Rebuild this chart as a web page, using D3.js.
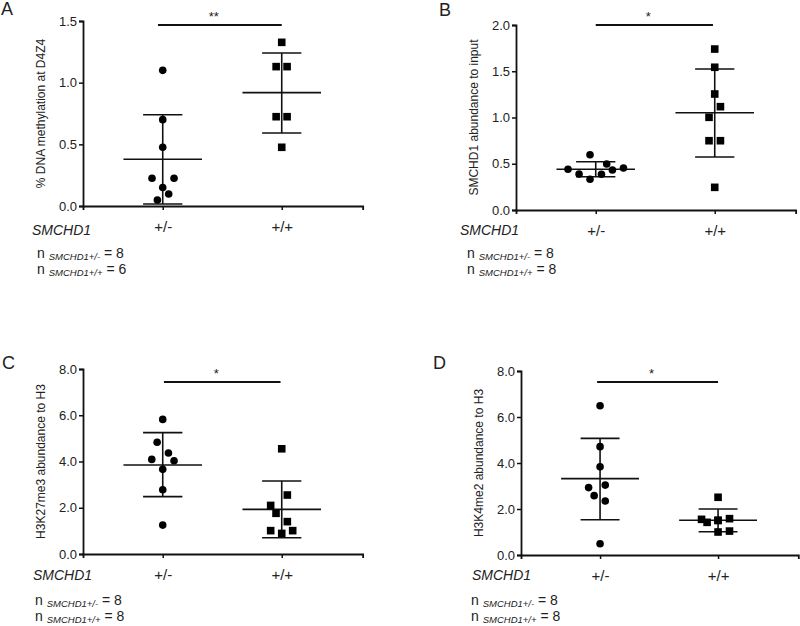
<!DOCTYPE html>
<html><head><meta charset="utf-8">
<script src="https://cdn.jsdelivr.net/npm/d3@7/dist/d3.min.js"></script>
<style>body{margin:0;background:#fff}svg{display:block}text{font-family:"Liberation Sans",Arial,sans-serif;fill:#222}</style>
</head><body><svg id="c" width="800" height="626"></svg>
<script>
// ---- data ----
const categories = ["+/-", "+/+"];
const panelLetters = ["A", "B", "C", "D"];
const yTitles = ["% DNA methylation at D4Z4", "SMCHD1 abundance to input", "H3K27me3 abundance to H3", "H3K4me2 abundance to H3"];
const yDomains = [[0, 1.5], [0, 2.0], [0, 8.0], [0, 8.0]];
const yTicks = [[0, 0.5, 1.0, 1.5], [0, 0.5, 1.0, 1.5, 2.0], [0, 2, 4, 6, 8], [0, 2, 4, 6, 8]];
const stars = ["**", "*", "*", "*"];
const nCounts = [[8, 6], [8, 8], [8, 8], [8, 8]];

// values (het = +/- circles, wt = +/+ squares) and horizontal jitter (category units)
const aHet = [1.10, 0.70, 0.476, 0.225, 0.225, 0.15, 0.097, 0.049];
const aHetJit = [0, 0, 0, -0.09, 0.095, 0, 0.05, -0.045];
const aWt = [1.327, 1.13, 1.13, 0.724, 0.724, 0.476];
const aWtJit = [0, -0.047, 0.045, -0.047, 0.045, 0];

const bHet = [0.598, 0.497, 0.44, 0.454, 0.432, 0.389, 0.386, 0.332];
const bHetJit = [-0.048, 0.092, -0.233, 0.233, 0.14, -0.14, 0.048, -0.048];
const bWt = [1.74, 1.543, 1.254, 1.117, 1.002, 0.749, 0.749, 0.245];
const bWtJit = [0, 0, 0, 0.048, -0.048, -0.048, 0.048, 0];

const cHet = [5.82, 4.83, 4.37, 4.09, 4.03, 3.66, 2.78, 1.25];
const cHetJit = [0, -0.047, 0.048, -0.092, 0.095, 0, 0, 0];
const cWt = [4.55, 2.55, 2.10, 1.76, 1.40, 1.01, 0.89, 1.01];
const cWtJit = [0, 0.047, -0.093, -0.048, 0.047, -0.093, 0, 0.092];

const dHet = [6.49, 4.71, 3.84, 2.93, 3.04, 2.58, 2.35, 0.49];
const dHetJit = [0, 0, 0, -0.097, 0.044, -0.05, 0.044, 0];
const dWt = [2.51, 1.55, 1.42, 1.51, 1.58, 1.00, 1.04, 1.50];
const dWtJit = [0, -0.14, -0.093, 0, 0.097, 0, 0.097, 0];

// mean and SD [het, wt]
const means = [[0.379, 0.919], [0.44, 1.052], [3.85, 1.93], [3.32, 1.51]];
const sdLow = [[0.016, 0.592], [0.36, 0.573], [2.48, 0.70], [1.53, 1.01]];
const sdHigh = [[0.74, 1.24], [0.522, 1.524], [5.25, 3.16], [5.07, 2.0]];

const seriesData = [[aHet, aWt], [bHet, bWt], [cHet, cWt], [dHet, dWt]];
const seriesJit = [[aHetJit, aWtJit], [bHetJit, bWtJit], [cHetJit, cWtJit], [dHetJit, dWtJit]];

// ---- layout ----
const layout = [
  {ax: 83, top: 21, bot: 206, sp: 119, letter: [1, 15], gene: [32, 235], n: [37, 258], sigY: 25, bar: [-0.04, 1.0]},
  {ax: 516, top: 25, bot: 210, sp: 119, letter: [439, 16], gene: [460, 235], n: [467, 258], sigY: 25, bar: [0, 0.985]},
  {ax: 83, top: 369, bot: 554, sp: 119, letter: [2, 369], gene: [33, 580], n: [35, 605], sigY: 382, bar: [0.01, 0.99]},
  {ax: 521, top: 371, bot: 555, sp: 118, letter: [433, 369], gene: [472, 580], n: [471, 605], sigY: 382, bar: [-0.025, 1.0]}
];

const svg = d3.select("#c");

layout.forEach((L, p) => {
  const g = svg.append("g");
  const x = d3.scaleLinear().domain([-0.67, 1.68]).range([L.ax, L.ax + 2.35 * L.sp]);
  const y = d3.scaleLinear().domain(yDomains[p]).range([L.bot, L.top]);

  // y axis
  const ya = g.append("g").attr("transform", `translate(${L.ax},0)`)
    .call(d3.axisLeft(y).tickValues(yTicks[p]).tickFormat(d3.format(".1f")).tickSize(4).tickPadding(2));
  ya.select(".domain").attr("stroke", "#111").attr("stroke-width", 1.8);
  ya.selectAll(".tick line").attr("stroke", "#111").attr("stroke-width", 1.5);
  ya.selectAll(".tick text").style("font-size", "13px").attr("fill", "#333");

  // x axis
  const xa = g.append("g").attr("transform", `translate(0,${L.bot})`)
    .call(d3.axisBottom(x).tickValues([0, 1]).tickFormat(i => categories[i]).tickSizeOuter(0).tickSize(4).tickPadding(11));
  xa.select(".domain").attr("stroke", "#111").attr("stroke-width", 1.8);
  xa.selectAll(".tick line").attr("stroke", "#111").attr("stroke-width", 1.5);
  xa.selectAll(".tick text").style("font-size", "15px").attr("fill", "#111");

  // y title
  g.append("text")
    .attr("transform", `translate(${L.ax - 38},${(L.top + L.bot) / 2}) rotate(-90)`)
    .attr("text-anchor", "middle").style("font-size", "12px").attr("fill", "#333")
    .text(yTitles[p]);

  // panel letter
  g.append("text").attr("x", L.letter[0]).attr("y", L.letter[1])
    .style("font-size", "18px").attr("fill", "#111").text(panelLetters[p]);

  // mean and SD bars
  [0, 1].forEach(ci => {
    const cx = x(ci);
    const ln = (x1, y1, x2, y2) => g.append("line").attr("x1", x1).attr("y1", y1).attr("x2", x2).attr("y2", y2)
      .attr("stroke", "#111").attr("stroke-width", 1.6);
    ln(cx, y(sdLow[p][ci]), cx, y(sdHigh[p][ci]));
    ln(x(ci - 0.33), y(means[p][ci]), x(ci + 0.33), y(means[p][ci]));
    ln(x(ci - 0.165), y(sdHigh[p][ci]), x(ci + 0.165), y(sdHigh[p][ci]));
    ln(x(ci - 0.165), y(sdLow[p][ci]), x(ci + 0.165), y(sdLow[p][ci]));
  });

  // points
  const het = seriesData[p][0].map((v, i) => ({v, j: seriesJit[p][0][i]}));
  const wt = seriesData[p][1].map((v, i) => ({v, j: seriesJit[p][1][i]}));
  g.selectAll("circle.pt").data(het).join("circle").attr("class", "pt")
    .attr("cx", d => x(0 + d.j)).attr("cy", d => y(d.v)).attr("r", 3.8).attr("fill", "#000");
  const s = 7.6;
  g.selectAll("rect.pt").data(wt).join("rect").attr("class", "pt")
    .attr("x", d => x(1 + d.j) - s / 2).attr("y", d => y(d.v) - s / 2)
    .attr("width", s).attr("height", s).attr("fill", "#000");

  // significance bar
  g.append("line").attr("x1", x(L.bar[0])).attr("x2", x(L.bar[1]))
    .attr("y1", L.sigY).attr("y2", L.sigY).attr("stroke", "#111").attr("stroke-width", 1.8);
  g.append("text").attr("x", (x(L.bar[0]) + x(L.bar[1])) / 2 - 6).attr("y", L.sigY - 4)
    .attr("text-anchor", "middle").style("font-size", "13px").attr("fill", "#111").text(stars[p]);

  // gene label
  g.append("text").attr("x", L.gene[0]).attr("y", L.gene[1])
    .style("font-size", "14px").style("font-style", "italic").attr("fill", "#111").text("SMCHD1");

  // n lines
  ["+/-", "+/+"].forEach((gt, k) => {
    const t = g.append("text").attr("x", L.n[0]).attr("y", L.n[1] + k * 16).style("font-size", "14px").attr("fill", "#111");
    t.append("tspan").text("n ");
    t.append("tspan").attr("dy", 2).style("font-size", "9.5px").style("font-style", "italic").text("SMCHD1" + gt);
    t.append("tspan").attr("dy", -2).text(" = " + nCounts[p][k]);
  });
});
</script></body></html>
